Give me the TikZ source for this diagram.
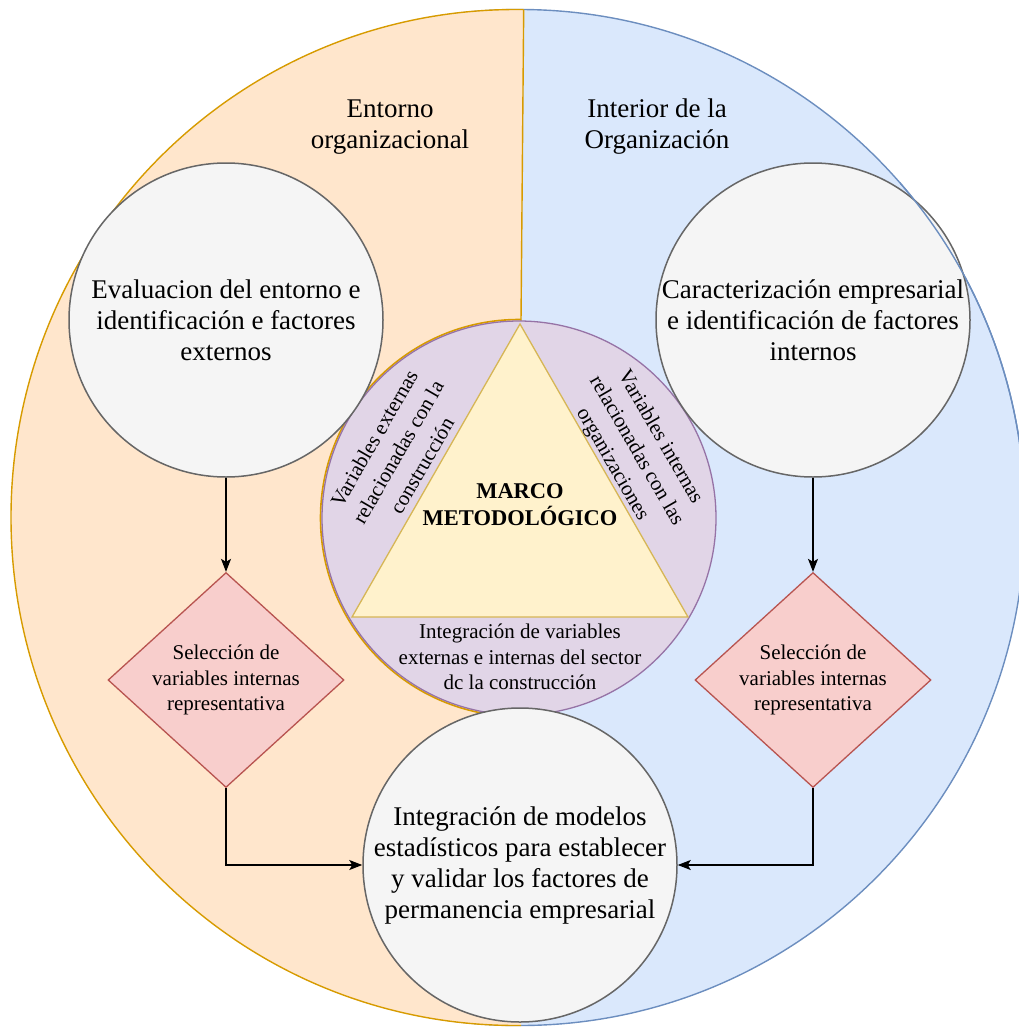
\documentclass[tikz,border=0pt]{standalone}
\usepackage{fontspec}
\setmainfont{Liberation Serif}
\usetikzlibrary{shapes.geometric,arrows.meta}

\definecolor{orFill}{HTML}{FFE6CC}
\definecolor{orLine}{HTML}{D79B00}
\definecolor{blFill}{HTML}{DAE8FC}
\definecolor{blLine}{HTML}{6C8EBF}
\definecolor{gyFill}{HTML}{F5F5F5}
\definecolor{gyLine}{HTML}{666666}
\definecolor{rdFill}{HTML}{F8CECC}
\definecolor{rdLine}{HTML}{B85450}
\definecolor{puFill}{HTML}{E1D5E7}
\definecolor{puLine}{HTML}{9673A6}
\definecolor{yeFill}{HTML}{FFF2CC}
\definecolor{yeLine}{HTML}{D6B656}

\begin{document}
\begin{tikzpicture}[x=1pt,y=-1pt,
  stagecircle/.style={circle, draw=gyLine, fill=gyFill, line width=1.5pt,
    minimum size=314pt, inner sep=0pt},
  bigtext/.style={font=\fontsize{27}{31}\selectfont, align=center, inner sep=0pt},
  choicebox/.style={diamond, draw=rdLine, fill=rdFill, line width=1.3pt,
    minimum width=236pt, minimum height=215pt, inner sep=0pt},
  smalltext/.style={font=\fontsize{21}{25.5}\selectfont, align=center, inner sep=0pt},
  slanttext/.style={font=\fontsize{21}{27.5}\selectfont, align=center, inner sep=0pt},
  flow/.style={draw=black, line width=1.3pt, -{Stealth[length=13pt,width=10pt,inset=3pt]}},
]
\useasboundingbox (0,0) rectangle (1019,1028);
\clip (0,0) rectangle (1019,1028);

% interior side of the outer disc
\draw[fill=blFill, draw=blLine, line width=1.4pt]
  (520,517.5) ellipse [x radius=505pt, y radius=508pt];

% organisational environment side
\begin{scope}
  \clip (0,0) -- (523.8,0) -- (521,321) -- (521,1028) -- (0,1028) -- cycle;
  \fill[orFill] (516,517.5) ellipse [x radius=505pt, y radius=508pt];
  \draw[orLine, line width=1.4pt] (516,517.5) ellipse [x radius=505pt, y radius=508pt];
  \draw[orLine, line width=1.6pt] (519,518) circle [radius=198.5pt];
\end{scope}
\draw[orLine, line width=1.4pt] (523.7,9.6) -- (521,321);

% central framework disc and triangle
\draw[fill=puFill, draw=puLine, line width=1.3pt] (519,518) circle [radius=197pt];
\draw[fill=yeFill, draw=yeLine, line width=1.3pt] (520,324) -- (352,617) -- (688,617) -- cycle;

\node[font=\fontsize{22.5}{27}\selectfont\bfseries, align=center, inner sep=0pt]
  (marco) at (520,505) {MARCO\\METODOLÓGICO};
\node[slanttext, rotate=60] (vext) at (398,452)
  {Variables externas\\relacionadas con la\\construcción};
\node[slanttext, rotate=-60] (vint) at (636,451)
  {Variables internas\\relacionadas con las\\organizaciones};
\node[smalltext] (integ) at (520,657)
  {Integración de variables\\externas e internas del sector\\dc la construcción};

% region titles
\node[bigtext] (entorno) at (390,127) {Entorno\\organizacional};
\node[bigtext] (interior) at (657,127) {Interior de la\\Organización};

% stages
\node[stagecircle, label={[bigtext]center:Evaluacion del entorno e\\identificación e factores\\externos}]
  (lc) at (226,320) {};
\node[stagecircle, label={[bigtext]center:Caracterización empresarial\\e identificación de factores\\internos}]
  (rc) at (813,320) {};
\node[stagecircle, label={[bigtext]center:Integración de modelos\\estadísticos para establecer\\y validar los factores de\\permanencia empresarial}]
  (bc) at (520,865) {};

\node[choicebox, label={[smalltext]center:Selección de\\variables internas\\representativa}]
  (ld) at (226,680) {};
\node[choicebox, label={[smalltext]center:Selección de\\variables internas\\representativa}]
  (rd) at (813,680) {};

% outer boundary passing over the right stage circle
\begin{scope}
  \clip (900,150) rectangle (1019,450);
  \draw[blLine, line width=1.4pt] (520,517.5) ellipse [x radius=505pt, y radius=508pt];
\end{scope}

% connectors
\draw[flow] (lc) -- (ld);
\draw[flow] (rc) -- (rd);
\draw[flow] (ld.south) |- (bc.west);
\draw[flow] (rd.south) |- (bc.east);
\end{tikzpicture}
\end{document}
